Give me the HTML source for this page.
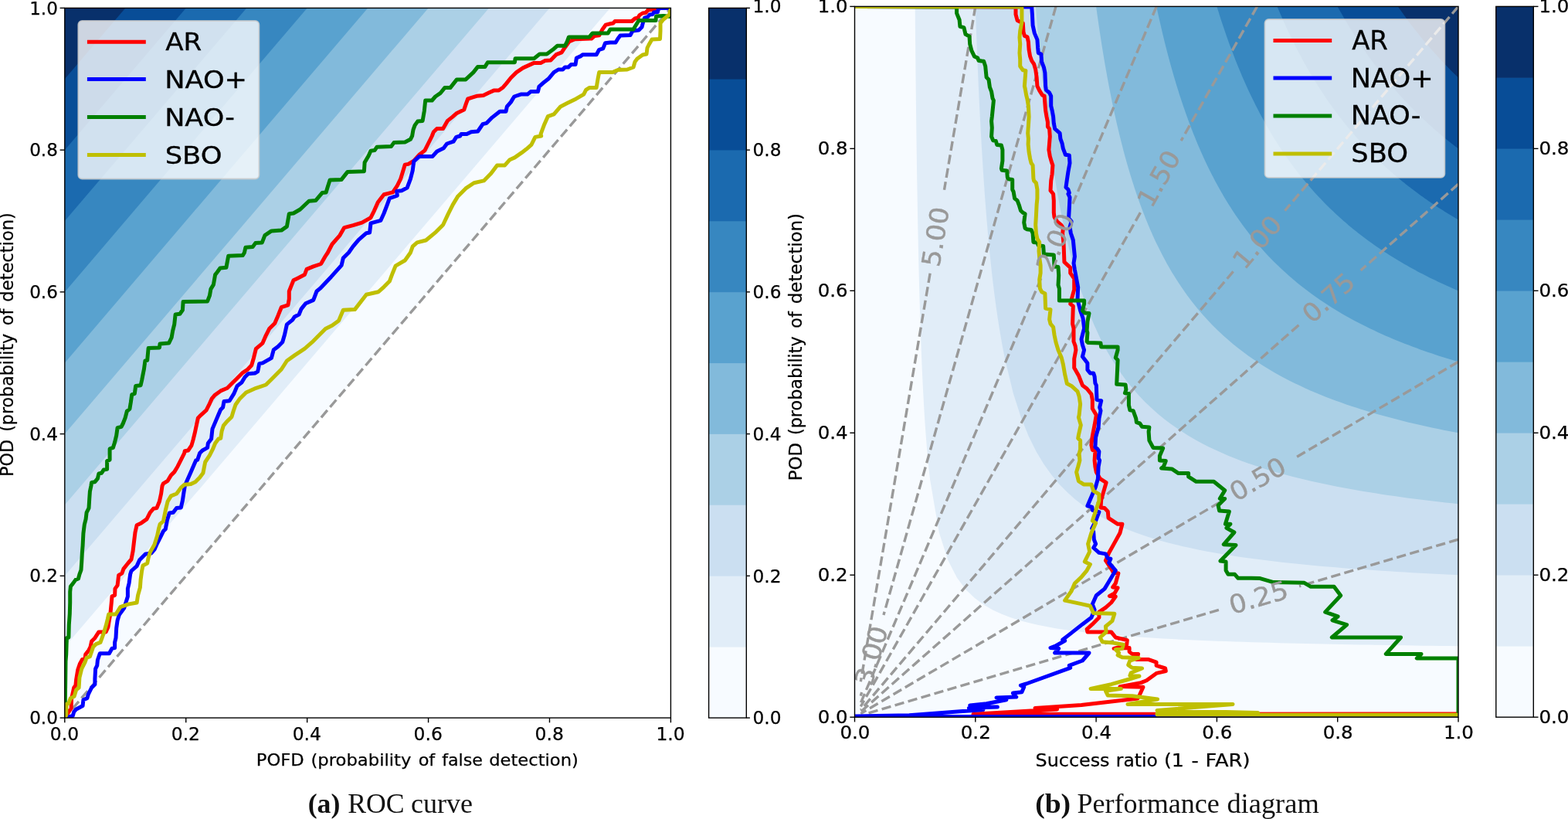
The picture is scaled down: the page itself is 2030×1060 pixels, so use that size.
<!DOCTYPE html>
<html lang="en"><head><meta charset="utf-8"><title>ROC curve and performance diagram</title>
<style>
html,body{margin:0;padding:0;background:#fff;}
body{width:2030px;height:1060px;overflow:hidden;}
svg{display:block;}
</style></head><body>
<svg width="2030" height="1060" viewBox="0 0 2030 1060" font-family="'DejaVu Sans', 'Liberation Sans', sans-serif">
<defs><clipPath id="cl"><rect x="83.8" y="10.4" width="784.6" height="918.7"/></clipPath><clipPath id="cr"><rect x="1106.5" y="8.4" width="781.5" height="919.8"/></clipPath></defs>
<rect width="2030" height="1060" fill="#ffffff"/>
<g clip-path="url(#cl)">
<polygon points="83.8,929.1 868.4,10.4 83.8,10.4" fill="#f7fbff"/>
<polygon points="83.8,837.23 789.94,10.4 83.8,10.4" fill="#e1edf8"/>
<polygon points="83.8,745.36 711.48,10.4 83.8,10.4" fill="#cbdff1"/>
<polygon points="83.8,653.49 633.02,10.4 83.8,10.4" fill="#abd0e6"/>
<polygon points="83.8,561.62 554.56,10.4 83.8,10.4" fill="#82badb"/>
<polygon points="83.8,469.75 476.1,10.4 83.8,10.4" fill="#59a2cf"/>
<polygon points="83.8,377.88 397.64,10.4 83.8,10.4" fill="#3787c0"/>
<polygon points="83.8,286.01 319.18,10.4 83.8,10.4" fill="#1b6aaf"/>
<polygon points="83.8,194.14 240.72,10.4 83.8,10.4" fill="#084d97"/>
<polygon points="83.8,102.27 162.26,10.4 83.8,10.4" fill="#08306b"/>
<line x1="83.8" y1="929.1" x2="868.4" y2="10.4" stroke="#999999" stroke-width="3.4" stroke-dasharray="12.3 5.4" stroke-dashoffset="2"/>
</g>
<g clip-path="url(#cl)" fill="none" stroke-width="5.0" stroke-linejoin="round" stroke-linecap="square">
<polyline points="84,929.3 88.6,921.4 92.1,917.1 92.6,904.3 95.7,890 97.9,887.1 98.6,880 100.7,867.1 103.6,858.6 106.4,853.6 110,852.1 110.7,847.1 115,841.4 117.1,837.1 118.6,830 122.9,825.7 127.9,817.9 137.1,817.9 140,811.4 141.4,802.9 142.9,794.3 143.6,787.1 144.3,780 145,771.9 148.6,770.4 149,761.9 152.1,757.6 153.6,744.7 157.9,741.9 160,736.1 165.7,729 170,724 172.1,713.3 173.6,700.4 175,689 177.1,679.7 182.9,676.9 190,671.9 194.3,663.3 198.6,658.3 202.9,657.6 206.4,649 208.6,639 210,629 211.4,625.9 217.1,622.3 221.4,615.1 225.7,610.9 230,603.7 234.3,595.1 238.6,586.6 239.3,583.7 243.6,583 247.9,576.6 250,569.4 252.1,560.9 253.6,553.7 256.4,540.9 260,537.3 267.1,530.9 271.4,522.3 274.3,515.9 277.9,511.6 285.7,505.9 294.3,502.3 300,496.6 307.1,489.4 314.3,482.3 320,478.7 325.7,472.7 328.6,462.7 331.4,451.3 340,444.1 344.3,434.1 348.6,425.6 355.7,418.4 360,408.4 364.3,397.7 372.9,394.9 374.3,387 374.3,377 377.1,369.9 380,362.7 385.7,359.9 394.3,355.6 397.1,348.4 405.7,344.9 414.3,342 415.7,341.3 421.4,331.3 424.3,327 430,316 440,304.6 445.7,294.6 457.1,291.7 468.6,288.1 480,281.7 484.3,273.1 489.3,261.7 497.1,251.7 508.6,248.9 514.3,240.3 518.6,231.7 524.3,213.1 528.6,212.4 535.7,208.1 542.9,200.3 550,194.6 554.3,186 559.3,176 561.4,170.7 565.7,166.4 573.6,166.4 579.3,156.4 585.7,151.4 591.4,146.4 600.7,142.1 603.6,133.6 605.7,127.9 617.1,124.3 625.7,123.6 632.9,120 639.3,117.1 645.7,117.1 651.4,112.9 655.7,107.9 661.4,100.7 668.6,93.6 677.1,87.9 691.4,81.4 700,81.4 705.7,78.6 712.9,77.9 720,70.7 727.1,67.9 731.4,61.4 737.1,53.6 744.3,50.7 765.7,50 770,46.4 775.7,45.7 780,37.9 784.3,32.1 790,30.7 794,30 796,27.5 818,27.5 822,24 826,23 828,19.5 832,17 836,16.5 839,13 848,12 850,10.4 868.5,10.4" stroke="#ff0000"/>
<polyline points="84,929.3 88.6,927.9 94.3,926.4 95.7,921.4 98.6,917.9 104.3,915 107.1,913.6 107.9,905.7 112.9,903.6 114.3,898.6 118.6,890 122.9,885.7 122.9,878.6 123.6,865.7 125.7,861.4 126.4,854.3 129.3,845.7 141.4,845.7 145,839.3 148.6,838.6 148.6,831.4 150,825.7 150.7,812.9 152.1,802.9 154.3,795.7 160.7,787.1 162.9,780 165.4,771.9 165.4,761.9 167.1,754.7 168.6,743.3 170,739 177.1,732.6 180.7,724.7 186.4,719 188.6,716.9 195.7,716.1 200,711.1 202.9,704.7 208.6,693.3 211.4,687.6 214.3,684.7 216.4,673.3 219.3,664 224.3,663.3 228.6,657.6 234.3,656.9 236.4,647.6 237.9,637.6 239.3,629 242.1,622.3 247.1,610.9 251.4,600.9 253.6,595.9 255.7,595.1 258.6,586.6 262.1,583 268.6,579.4 269.3,573.7 273.6,568 275,555.1 278.6,546.6 282.9,536.6 285.7,530.1 288.6,527.3 290,519.4 297.1,518.7 302.9,509.4 307.1,499.4 312.9,495.1 317.1,488 321.4,483.7 330,483 333.6,480.9 334.3,478 335.7,470.6 340,469.9 351.4,463.4 354.3,452.7 360,448.4 365.7,442.7 368.6,432.7 371.4,419.9 378.6,414.1 381.4,409.9 387.1,407 390,399.9 395.7,392.7 405.7,388.4 410,377 414.3,373.4 428.6,358.4 442.1,343.4 444.3,334.1 451.4,327 457.1,318.9 464.3,310.3 474.3,301.7 478.6,301 480,288.9 492.9,285.3 497.1,276 501.4,264.6 504.3,256.7 514.3,253.1 513.6,247.4 520,246.7 527.1,243.1 531.4,231.7 534.3,220.3 535.7,208.9 542.9,202.4 560,202.4 565.7,196 574.3,191.7 578.6,186 587.1,183.1 590.7,177.4 595.7,176 597.1,173.6 604.3,173.6 610,170.7 618.6,170 625,160.7 630,159.3 637.1,152.1 647.1,144.3 655,144.3 656.4,137.9 661.4,132.1 665.7,125 674.3,122.1 682.9,122.1 687.1,118.6 696.4,118.6 697.9,112.1 704.3,106.4 710,102.1 717.1,93.6 722.9,90 728.6,90 731.4,87.1 735.7,87.1 739.3,83.6 745,83.6 746.4,75 751.4,72.9 754.3,70.7 772.1,70.7 775.7,64.3 780.7,62.9 783.6,55.7 790,55 797,55 800,50 803,46 816,45.5 819,40 827,39 831,35 832.5,29 834.5,23 839,21.5 841,19 845,18.5 846.5,16 851.5,15.5 852.2,12 855,10.4 868.5,10.4" stroke="#0000ff"/>
<polyline points="84,929.3 84.7,880 85,855.7 85.7,847.1 86.4,825.7 88.9,825 89.3,808.6 90.3,794.3 90.7,780 90.7,766.1 91.4,759 94.3,755.4 97.9,750.4 101.4,749 102.9,743.3 105,737.6 105.7,727.6 106.4,714.7 107.1,706.1 107.9,690.4 109.3,679 111.1,671.9 112.1,663.3 115,657.6 115.7,646.1 116.4,636.1 117.9,629 118.6,624.4 122.9,623.7 126.4,619.4 127.9,613 131.4,612.3 134.3,608 138.6,607.3 138.6,596.6 142.1,595.1 142.1,580.9 146.4,579.4 148.6,572.3 150.7,563.7 152.1,553.7 157.1,552.3 159.3,548 162.1,540.9 164.3,532.3 167.9,529.4 169.3,520.9 170.7,510.9 174.3,509.4 175.7,499.4 182.1,498.7 183.6,492.3 185,485.1 186.4,478 187.9,467 190.7,466.3 192.1,450.6 206.4,449.9 207.1,444.9 218.6,444.1 222.1,437 223.6,428.4 225.7,419.9 227.1,407 232.9,406.3 236.4,401.3 237.1,390.6 268.6,389.9 271.4,382.7 272.9,374.1 276.4,368.4 278.6,355.6 281.4,352 285,347 292.9,346.3 295.7,331.3 314.3,330.6 316.4,327 317.9,320.3 327.1,319.6 330.7,314.6 339.3,313.9 342.9,304.6 351.4,298.9 364.3,298.1 371.4,293.1 374.3,276.7 380,276 388.6,271 400,260.3 408.6,259.6 417.1,249.6 422.1,248.9 424.3,241.7 427.1,233.1 442.1,232.4 450,222.4 471.4,221.7 472.1,210.3 477.1,201.7 480,195.3 485,194.6 487.9,190.3 506.4,189.6 510,184.6 524.3,183.9 531.4,180.3 533.6,176 535,167.9 537.1,162.1 540.7,157.1 547.1,156.4 549.3,143.6 550.7,130 559.3,130 563.6,125 570,120.7 575.7,113.6 582.9,113.6 591.4,102.9 602.9,102.9 612.9,93.6 618.6,86.4 627.9,86.4 631.4,80.7 666.4,80.7 667.1,75.7 691.4,75.7 698.6,70 707.9,70 715.7,64.3 721.4,59.3 731.4,59.3 734.3,53.6 736.4,47.9 762.9,47.9 767.1,42.9 787.1,42.9 790,38 820,38 823,33 827,26.5 849,26.5 849.5,21 859,20.5 868.5,21.5 868.5,10.4" stroke="#008000"/>
<polyline points="84,929.3 85.7,925.7 86,911.4 88.9,910.3 91.1,904 96,901.4 98.6,892.9 102.1,890 102.9,877.1 105.7,865.7 110,857.1 112.1,851.4 116.4,849.7 120.7,837.1 124.3,833.6 130,831.4 133.6,821.4 137.1,810 139.3,801.4 140.7,795 150,795 155.7,785.7 165.7,782.1 177.1,780 178.6,770.4 181.4,760.4 182.1,750.4 183.6,739 185,731.9 190.7,729 192.1,721.9 194.3,714.7 200,704.7 203.6,693.3 205.7,683.3 207.1,678.3 211.4,674.7 214.3,660.4 217.1,649 221.4,641.9 228.6,639 234.3,631.1 238.6,627.3 247.1,626.6 252.9,623.7 258.6,618 262.9,612.3 264.3,605.1 265.7,598 271.4,589.4 275.7,580.9 278.6,573.7 282.9,568 285.7,567.3 287.1,558 289.3,550.9 292.9,546.6 300,539.4 302.1,532.3 305,523.7 310,516.6 318.6,508 331.4,502.3 344.3,498 351.4,490.9 358.6,483.7 364.3,478 371.4,467 381.4,459.9 394.3,451.3 404.3,442.7 411.4,435.6 421.4,425.6 430,421.3 438.6,414.9 444.3,401.3 459.3,400.6 474.3,381.3 490,377.7 497.1,371.3 504.3,364.1 508.6,352.7 512.1,344.1 524.3,337 531.4,327 534.3,318.9 540,313.9 551.4,311 564.3,300.3 573.6,291 580,277.4 586.4,264.6 592.9,253.9 602.9,243.9 613.6,236.7 626.4,233.9 635.7,224.6 643.6,213.9 653.6,213.9 660,206.7 666.4,203.9 675.7,197.4 681.4,193.1 687.9,187.4 692.9,177.4 700.7,176 700,173.6 704.3,162.1 709.3,150.7 717.1,147.9 725.7,137.9 734.3,133.6 745.7,127.9 755.7,122.1 758.6,116.4 762.9,113.6 772.1,113.6 774.3,100.7 775.7,93.6 793,93.5 800,90.5 812,90 820,87 822,80 825,76 832,71 837,70 838,62 840,58 844,51 854.5,50.5 855,40 855,30 859,25 864,21 866.5,19 868.5,10.4" stroke="#bfbf00"/>
</g>
<g clip-path="url(#cr)">
<rect x="1106.5" y="8.4" width="781.5" height="919.8" fill="#f7fbff"/>
<polygon points="1184.65,8.4 1185.05,52.83 1185.45,92.79 1185.85,128.9 1186.24,161.7 1186.64,191.63 1187.04,219.04 1187.44,244.25 1187.84,267.5 1188.24,289.02 1188.64,308.99 1189.04,327.57 1189.43,344.91 1189.83,361.13 1190.23,376.32 1190.63,390.59 1191.03,404.01 1191.43,416.67 1191.83,428.61 1192.23,439.91 1192.62,450.61 1193.02,460.76 1193.42,470.4 1193.82,479.57 1194.22,488.3 1194.62,496.62 1195.02,504.56 1195.42,512.14 1195.81,519.4 1196.21,526.35 1196.61,533 1197.01,539.38 1197.41,545.51 1197.81,551.39 1198.21,557.05 1198.61,562.5 1199,567.74 1199.4,572.79 1199.8,577.66 1200.2,582.36 1200.6,586.89 1201,591.27 1201.4,595.51 1201.8,599.6 1202.19,603.56 1202.59,607.4 1202.99,611.12 1203.39,614.72 1203.79,618.21 1204.19,621.6 1215.78,689.2 1227.37,725.34 1238.96,747.85 1250.55,763.2 1262.14,774.35 1273.73,782.82 1285.32,789.46 1296.91,794.81 1308.5,799.22 1320.09,802.91 1331.68,806.04 1343.27,808.73 1354.86,811.08 1366.45,813.13 1378.04,814.95 1389.63,816.57 1401.22,818.02 1412.81,819.33 1424.4,820.52 1435.99,821.6 1447.58,822.58 1459.17,823.49 1470.76,824.32 1482.35,825.09 1493.94,825.81 1505.53,826.47 1517.12,827.09 1528.71,827.66 1540.3,828.21 1551.89,828.71 1563.48,829.19 1575.07,829.64 1586.66,830.06 1598.25,830.46 1609.84,830.84 1621.43,831.2 1633.02,831.54 1644.61,831.86 1656.2,832.17 1667.79,832.46 1679.38,832.74 1690.97,833.01 1702.56,833.27 1714.15,833.51 1725.74,833.74 1737.33,833.97 1748.92,834.18 1760.51,834.39 1772.1,834.59 1783.69,834.78 1795.28,834.96 1806.87,835.14 1818.46,835.31 1830.05,835.48 1841.64,835.64 1853.23,835.79 1864.82,835.94 1876.41,836.08 1888,836.22 1888,8.4" fill="#e1edf8"/>
<polygon points="1262.8,8.4 1263.6,31.17 1264.39,52.62 1265.19,72.87 1265.99,92.02 1266.79,110.15 1267.58,127.34 1268.38,143.66 1269.18,159.19 1269.98,173.96 1270.77,188.05 1271.57,201.49 1272.37,214.33 1273.17,226.6 1273.96,238.35 1274.76,249.61 1275.56,260.4 1276.36,270.76 1277.15,280.71 1277.95,290.27 1278.75,299.48 1279.55,308.33 1280.34,316.87 1281.14,325.1 1281.94,333.04 1282.74,340.7 1283.53,348.1 1284.33,355.25 1285.13,362.17 1285.93,368.86 1286.72,375.34 1287.52,381.62 1288.32,387.7 1289.12,393.6 1289.91,399.32 1290.71,404.87 1291.51,410.25 1292.31,415.49 1293.1,420.57 1293.9,425.52 1294.7,430.33 1295.5,435 1296.29,439.56 1297.09,443.99 1297.89,448.3 1298.69,452.51 1299.48,456.61 1300.28,460.6 1301.08,464.5 1301.88,468.3 1311.81,508.88 1321.74,539.97 1331.68,564.56 1341.61,584.49 1351.55,600.96 1361.48,614.82 1371.42,626.63 1381.35,636.81 1391.28,645.69 1401.22,653.49 1411.15,660.41 1421.09,666.58 1431.02,672.12 1440.96,677.12 1450.89,681.66 1460.82,685.79 1470.76,689.57 1480.69,693.05 1490.63,696.25 1500.56,699.21 1510.5,701.96 1520.43,704.51 1530.36,706.89 1540.3,709.12 1550.23,711.2 1560.17,713.16 1570.1,715 1580.04,716.73 1589.97,718.37 1599.9,719.92 1609.84,721.38 1619.77,722.77 1629.71,724.09 1639.64,725.34 1649.58,726.53 1659.51,727.67 1669.44,728.75 1679.38,729.79 1689.31,730.78 1699.25,731.73 1709.18,732.64 1719.12,733.51 1729.05,734.34 1738.99,735.14 1748.92,735.91 1758.85,736.66 1768.79,737.37 1778.72,738.06 1788.66,738.72 1798.59,739.36 1808.53,739.98 1818.46,740.57 1828.39,741.15 1838.33,741.71 1848.26,742.25 1858.2,742.77 1868.13,743.28 1878.07,743.77 1888,744.24 1888,8.4" fill="#cbdff1"/>
<polygon points="1340.95,8.4 1342.15,23.7 1343.34,38.36 1344.54,52.41 1345.73,65.89 1346.93,78.83 1348.13,91.26 1349.32,103.22 1350.52,114.74 1351.72,125.82 1352.91,136.51 1354.11,146.81 1355.3,156.75 1356.5,166.36 1357.7,175.64 1358.89,184.61 1360.09,193.28 1361.28,201.68 1362.48,209.82 1363.68,217.7 1364.87,225.33 1366.07,232.74 1367.27,239.93 1368.46,246.91 1369.66,253.68 1370.85,260.26 1372.05,266.66 1373.25,272.88 1374.44,278.93 1375.64,284.82 1376.84,290.55 1378.03,296.13 1379.23,301.56 1380.42,306.86 1381.62,312.02 1382.82,317.06 1384.01,321.97 1385.21,326.76 1386.4,331.44 1387.6,336 1388.8,340.46 1389.99,344.81 1391.19,349.07 1392.39,353.22 1393.58,357.29 1394.78,361.26 1395.97,365.15 1397.17,368.96 1398.37,372.68 1399.56,376.32 1407.84,399.56 1416.12,419.82 1424.4,437.64 1432.68,453.44 1440.96,467.54 1449.23,480.2 1457.51,491.64 1465.79,502.02 1474.07,511.47 1482.35,520.13 1490.63,528.09 1498.91,535.42 1507.18,542.2 1515.46,548.49 1523.74,554.35 1532.02,559.8 1540.3,564.9 1548.58,569.68 1556.86,574.16 1565.13,578.38 1573.41,582.36 1581.69,586.11 1589.97,589.65 1598.25,593.01 1606.53,596.19 1614.81,599.22 1623.08,602.09 1631.36,604.82 1639.64,607.43 1647.92,609.92 1656.2,612.3 1664.48,614.57 1672.76,616.74 1681.03,618.83 1689.31,620.82 1697.59,622.74 1705.87,624.58 1714.15,626.35 1722.43,628.05 1730.71,629.69 1738.99,631.27 1747.26,632.8 1755.54,634.26 1763.82,635.68 1772.1,637.05 1780.38,638.37 1788.66,639.65 1796.94,640.89 1805.21,642.09 1813.49,643.25 1821.77,644.38 1830.05,645.47 1838.33,646.52 1846.61,647.55 1854.89,648.55 1863.16,649.52 1871.44,650.46 1879.72,651.37 1888,652.26 1888,8.4" fill="#abd0e6"/>
<polygon points="1419.1,8.4 1420.69,19.93 1422.29,31.06 1423.88,41.81 1425.48,52.2 1427.07,62.25 1428.67,71.98 1430.26,81.4 1431.86,90.53 1433.45,99.37 1435.05,107.95 1436.64,116.27 1438.24,124.34 1439.83,132.18 1441.43,139.8 1443.02,147.2 1444.62,154.4 1446.21,161.4 1447.81,168.21 1449.4,174.84 1451,181.29 1452.59,187.58 1454.19,193.71 1455.78,199.68 1457.38,205.5 1458.97,211.18 1460.57,216.72 1462.16,222.12 1463.76,227.4 1465.35,232.55 1466.95,237.59 1468.54,242.5 1470.14,247.31 1471.73,252.01 1473.33,256.6 1474.92,261.09 1476.52,265.49 1478.11,269.79 1479.71,274 1481.3,278.12 1482.9,282.15 1484.49,286.1 1486.09,289.97 1487.68,293.76 1489.28,297.48 1490.87,301.12 1492.47,304.69 1494.06,308.2 1495.66,311.63 1497.25,315 1503.87,328.33 1510.5,340.68 1517.12,352.16 1523.74,362.86 1530.36,372.85 1536.99,382.2 1543.61,390.97 1550.23,399.22 1556.86,406.98 1563.48,414.3 1570.1,421.22 1576.72,427.77 1583.35,433.98 1589.97,439.87 1596.59,445.47 1603.22,450.8 1609.84,455.87 1616.46,460.71 1623.08,465.33 1629.71,469.75 1636.33,473.98 1642.95,478.03 1649.58,481.91 1656.2,485.63 1662.82,489.2 1669.44,492.64 1676.07,495.94 1682.69,499.12 1689.31,502.19 1695.94,505.14 1702.56,507.99 1709.18,510.73 1715.81,513.39 1722.43,515.95 1729.05,518.43 1735.67,520.83 1742.3,523.15 1748.92,525.4 1755.54,527.58 1762.17,529.69 1768.79,531.73 1775.41,533.72 1782.03,535.65 1788.66,537.52 1795.28,539.34 1801.9,541.11 1808.53,542.83 1815.15,544.5 1821.77,546.13 1828.39,547.71 1835.02,549.26 1841.64,550.76 1848.26,552.22 1854.89,553.65 1861.51,555.04 1868.13,556.4 1874.75,557.73 1881.38,559.02 1888,560.28 1888,8.4" fill="#82badb"/>
<polygon points="1497.25,8.4 1499.24,17.64 1501.24,26.61 1503.23,35.32 1505.22,43.78 1507.22,51.99 1509.21,59.98 1511.21,67.74 1513.2,75.29 1515.19,82.64 1517.19,89.8 1519.18,96.77 1521.17,103.55 1523.17,110.17 1525.16,116.61 1527.15,122.9 1529.15,129.03 1531.14,135.01 1533.14,140.85 1535.13,146.55 1537.12,152.12 1539.12,157.56 1541.11,162.87 1543.1,168.06 1545.1,173.14 1547.09,178.1 1549.08,182.96 1551.08,187.71 1553.07,192.36 1555.07,196.91 1557.06,201.37 1559.05,205.73 1561.05,210 1563.04,214.19 1565.03,218.29 1567.03,222.31 1569.02,226.25 1571.01,230.11 1573.01,233.9 1575,237.62 1576.99,241.26 1578.99,244.84 1580.98,248.35 1582.98,251.79 1584.97,255.18 1586.96,258.5 1588.96,261.76 1590.95,264.96 1592.94,268.11 1594.94,271.2 1599.9,278.67 1604.87,285.83 1609.84,292.7 1614.81,299.29 1619.77,305.63 1624.74,311.72 1629.71,317.58 1634.67,323.22 1639.64,328.65 1644.61,333.9 1649.58,338.95 1654.54,343.84 1659.51,348.55 1664.48,353.11 1669.44,357.52 1674.41,361.79 1679.38,365.92 1684.35,369.92 1689.31,373.8 1694.28,377.56 1699.25,381.21 1704.22,384.75 1709.18,388.19 1714.15,391.53 1719.12,394.77 1724.08,397.93 1729.05,401 1734.02,403.98 1738.99,406.89 1743.95,409.72 1748.92,412.47 1753.89,415.16 1758.85,417.78 1763.82,420.33 1768.79,422.82 1773.76,425.24 1778.72,427.61 1783.69,429.92 1788.66,432.18 1793.62,434.39 1798.59,436.54 1803.56,438.65 1808.53,440.71 1813.49,442.72 1818.46,444.69 1823.43,446.61 1828.39,448.5 1833.36,450.34 1838.33,452.14 1843.3,453.91 1848.26,455.64 1853.23,457.34 1858.2,459 1863.16,460.63 1868.13,462.22 1873.1,463.79 1878.07,465.32 1883.03,466.82 1888,468.3 1888,8.4" fill="#59a2cf"/>
<polygon points="1575.4,8.4 1577.79,16.12 1580.18,23.63 1582.58,30.94 1584.97,38.07 1587.36,45.02 1589.75,51.79 1592.15,58.39 1594.54,64.83 1596.93,71.11 1599.32,77.25 1601.72,83.24 1604.11,89.08 1606.5,94.8 1608.89,100.38 1611.29,105.84 1613.68,111.17 1616.07,116.39 1618.46,121.49 1620.85,126.48 1623.25,131.37 1625.64,136.15 1628.03,140.83 1630.42,145.42 1632.82,149.91 1635.21,154.31 1637.6,158.62 1639.99,162.84 1642.39,166.99 1644.78,171.05 1647.17,175.03 1649.56,178.94 1651.96,182.77 1654.35,186.53 1656.74,190.22 1659.13,193.84 1661.52,197.4 1663.92,200.89 1666.31,204.32 1668.7,207.69 1671.09,211 1673.49,214.25 1675.88,217.45 1678.27,220.59 1680.66,223.67 1683.06,226.71 1685.45,229.69 1687.84,232.63 1690.23,235.51 1692.62,238.35 1695.94,242.2 1699.25,245.97 1702.56,249.66 1705.87,253.27 1709.18,256.8 1712.49,260.25 1715.81,263.63 1719.12,266.94 1722.43,270.19 1725.74,273.37 1729.05,276.48 1732.36,279.54 1735.67,282.53 1738.99,285.46 1742.3,288.34 1745.61,291.16 1748.92,293.93 1752.23,296.65 1755.54,299.31 1758.85,301.93 1762.17,304.5 1765.48,307.02 1768.79,309.5 1772.1,311.93 1775.41,314.32 1778.72,316.67 1782.03,318.98 1785.35,321.25 1788.66,323.48 1791.97,325.67 1795.28,327.83 1798.59,329.95 1801.9,332.03 1805.21,334.08 1808.53,336.1 1811.84,338.09 1815.15,340.04 1818.46,341.96 1821.77,343.86 1825.08,345.72 1828.39,347.55 1831.71,349.36 1835.02,351.14 1838.33,352.89 1841.64,354.62 1844.95,356.32 1848.26,357.99 1851.57,359.64 1854.89,361.27 1858.2,362.87 1861.51,364.45 1864.82,366.01 1868.13,367.54 1871.44,369.06 1874.75,370.55 1878.07,372.02 1881.38,373.48 1884.69,374.91 1888,376.32 1888,8.4" fill="#3787c0"/>
<polygon points="1653.55,8.4 1656.34,15.02 1659.13,21.48 1661.92,27.79 1664.71,33.95 1667.51,39.96 1670.3,45.84 1673.09,51.58 1675.88,57.2 1678.67,62.68 1681.46,68.05 1684.25,73.3 1687.04,78.44 1689.83,83.46 1692.62,88.38 1695.42,93.2 1698.21,97.92 1701,102.54 1703.79,107.07 1706.58,111.5 1709.37,115.85 1712.16,120.12 1714.95,124.3 1717.74,128.4 1720.54,132.42 1723.33,136.36 1726.12,140.23 1728.91,144.03 1731.7,147.76 1734.49,151.43 1737.28,155.02 1740.07,158.55 1742.86,162.02 1745.66,165.43 1748.45,168.78 1751.24,172.07 1754.03,175.3 1756.82,178.48 1759.61,181.6 1762.4,184.68 1765.19,187.7 1767.98,190.67 1770.78,193.59 1773.57,196.47 1776.36,199.3 1779.15,202.09 1781.94,204.83 1784.73,207.53 1787.52,210.18 1790.31,212.8 1791.97,214.33 1793.62,215.85 1795.28,217.36 1796.94,218.85 1798.59,220.33 1800.25,221.79 1801.9,223.24 1803.56,224.68 1805.21,226.11 1806.87,227.52 1808.53,228.93 1810.18,230.32 1811.84,231.69 1813.49,233.06 1815.15,234.41 1816.8,235.76 1818.46,237.09 1820.12,238.41 1821.77,239.72 1823.43,241.01 1825.08,242.3 1826.74,243.58 1828.39,244.84 1830.05,246.1 1831.71,247.34 1833.36,248.58 1835.02,249.8 1836.67,251.02 1838.33,252.22 1839.98,253.42 1841.64,254.6 1843.3,255.78 1844.95,256.95 1846.61,258.11 1848.26,259.25 1849.92,260.39 1851.57,261.52 1853.23,262.65 1854.89,263.76 1856.54,264.86 1858.2,265.96 1859.85,267.05 1861.51,268.13 1863.16,269.2 1864.82,270.26 1866.48,271.32 1868.13,272.36 1869.79,273.4 1871.44,274.43 1873.1,275.46 1874.75,276.47 1876.41,277.48 1878.07,278.48 1879.72,279.48 1881.38,280.46 1883.03,281.44 1884.69,282.42 1886.34,283.38 1888,284.34 1888,8.4" fill="#1b6aaf"/>
<polygon points="1731.7,8.4 1734.89,14.2 1738.08,19.87 1741.27,25.41 1744.46,30.83 1747.65,36.14 1750.84,41.33 1754.03,46.41 1757.22,51.38 1760.41,56.25 1763.6,61.02 1766.79,65.69 1769.98,70.27 1773.17,74.76 1776.36,79.15 1779.55,83.47 1782.74,87.69 1785.93,91.84 1789.12,95.91 1792.31,99.9 1795.5,103.81 1798.69,107.66 1801.88,111.43 1805.07,115.14 1808.26,118.78 1811.44,122.35 1814.63,125.86 1817.82,129.31 1821.01,132.7 1824.2,136.03 1827.39,139.3 1830.58,142.52 1833.77,145.68 1836.96,148.8 1840.15,151.86 1843.34,154.86 1846.53,157.83 1849.72,160.74 1852.91,163.61 1856.1,166.43 1859.29,169.2 1862.48,171.94 1865.67,174.63 1868.86,177.28 1872.05,179.89 1875.24,182.46 1878.43,184.99 1881.62,187.48 1884.81,189.94 1888,192.36 1888,192.36 1888,192.36 1888,192.36 1888,192.36 1888,192.36 1888,192.36 1888,192.36 1888,192.36 1888,192.36 1888,192.36 1888,192.36 1888,192.36 1888,192.36 1888,192.36 1888,192.36 1888,192.36 1888,192.36 1888,192.36 1888,192.36 1888,192.36 1888,192.36 1888,192.36 1888,192.36 1888,192.36 1888,192.36 1888,192.36 1888,192.36 1888,192.36 1888,192.36 1888,192.36 1888,192.36 1888,192.36 1888,192.36 1888,192.36 1888,192.36 1888,192.36 1888,192.36 1888,192.36 1888,192.36 1888,192.36 1888,192.36 1888,192.36 1888,192.36 1888,192.36 1888,192.36 1888,192.36 1888,192.36 1888,192.36 1888,192.36 1888,192.36 1888,192.36 1888,192.36 1888,192.36 1888,192.36 1888,192.36 1888,192.36 1888,192.36 1888,192.36 1888,192.36 1888,8.4" fill="#084d97"/>
<polygon points="1809.85,8.4 1813.44,13.56 1817.03,18.61 1820.62,23.55 1824.2,28.4 1827.79,33.14 1831.38,37.79 1834.97,42.34 1838.56,46.81 1842.15,51.18 1845.74,55.47 1849.32,59.68 1852.91,63.81 1856.5,67.86 1860.09,71.83 1863.68,75.74 1867.27,79.56 1870.85,83.32 1874.44,87.02 1878.03,90.64 1881.62,94.2 1885.21,97.7 1888,100.38 1888,8.4" fill="#08306b"/>
<line x1="1262.8" y1="8.4" x2="1222.46" y2="245.8" stroke="#999999" stroke-width="3.4" stroke-dasharray="12.3 5.4"/>
<line x1="1204.11" y1="353.8" x2="1114.32" y2="882.21" stroke="#999999" stroke-width="3.4" stroke-dasharray="12.3 5.4"/>
<line x1="1367" y1="8.4" x2="1143.94" y2="796" stroke="#999999" stroke-width="3.4" stroke-dasharray="12.3 5.4"/>
<line x1="1115.62" y1="896" x2="1114.32" y2="900.61" stroke="#999999" stroke-width="3.4" stroke-dasharray="12.3 5.4"/>
<line x1="1497.25" y1="8.4" x2="1388.75" y2="263.8" stroke="#999999" stroke-width="3.4" stroke-dasharray="12.3 5.4"/>
<line x1="1347.76" y1="360.3" x2="1114.32" y2="909.8" stroke="#999999" stroke-width="3.4" stroke-dasharray="12.3 5.4"/>
<line x1="1627.5" y1="8.4" x2="1529.11" y2="182.1" stroke="#999999" stroke-width="3.4" stroke-dasharray="12.3 5.4"/>
<line x1="1476.38" y1="275.2" x2="1114.32" y2="914.4" stroke="#999999" stroke-width="3.4" stroke-dasharray="12.3 5.4"/>
<line x1="1888" y1="8.4" x2="1663.4" y2="272.75" stroke="#999999" stroke-width="3.4" stroke-dasharray="12.3 5.4"/>
<line x1="1596.6" y1="351.37" x2="1114.32" y2="919" stroke="#999999" stroke-width="3.4" stroke-dasharray="12.3 5.4"/>
<line x1="1888" y1="238.35" x2="1761.6" y2="349.93" stroke="#999999" stroke-width="3.4" stroke-dasharray="12.3 5.4"/>
<line x1="1681.4" y1="420.72" x2="1114.32" y2="921.3" stroke="#999999" stroke-width="3.4" stroke-dasharray="12.3 5.4"/>
<line x1="1888" y1="468.3" x2="1675.5" y2="593.35" stroke="#999999" stroke-width="3.4" stroke-dasharray="12.3 5.4"/>
<line x1="1579" y1="650.14" x2="1114.32" y2="923.6" stroke="#999999" stroke-width="3.4" stroke-dasharray="12.3 5.4"/>
<line x1="1888" y1="698.25" x2="1682.1" y2="758.83" stroke="#999999" stroke-width="3.4" stroke-dasharray="12.3 5.4"/>
<line x1="1577.9" y1="789.49" x2="1122.13" y2="923.6" stroke="#999999" stroke-width="3.4" stroke-dasharray="12.3 5.4"/>
</g>
<g clip-path="url(#cr)" fill="none" stroke-width="5.0" stroke-linejoin="round" stroke-linecap="square">
<polyline points="1106.5,8.4 1315,8.9 1315,18.6 1317.1,26.4 1324.3,30 1325,41.4 1326.4,46.4 1330,47.9 1331.4,54.3 1332.1,64.3 1333.6,72.9 1335.7,78.6 1338.6,82.9 1340.7,90 1342.1,100 1342.9,111.4 1345.7,117.1 1349.3,122.9 1352.1,124.3 1352.9,134.3 1353.6,142.9 1355,151 1356.4,158.1 1356.4,163.9 1358.6,166.7 1359.3,176.7 1358.6,185.3 1357.9,193.9 1359.3,202.4 1361.4,209.6 1362.9,213.9 1362.1,225.3 1360.7,233.9 1360,246.7 1363.6,251 1364.3,259.6 1364.3,275.3 1365,281 1368.6,286.7 1374.3,291.7 1376.4,295.3 1375.7,302 1377.1,316.3 1377.9,339.1 1385.7,346.3 1385.7,353.4 1390.7,360.6 1390.7,374.9 1387.9,384.9 1385.7,393.4 1389.3,396.3 1388.6,419.1 1390,424.9 1390,442 1392.1,447.7 1392.9,453 1390.7,464.4 1390.7,475.9 1396.4,485.9 1401.4,498.7 1407.1,503 1412.9,510.1 1414.3,517.3 1414.3,528.7 1419.3,537.3 1417.1,550.1 1414.3,564.4 1412.9,575.9 1414.3,582.3 1417.9,583.7 1417.1,595.9 1417.9,604 1419.3,611.1 1424.3,619.7 1432.1,624.7 1428.6,636.9 1425.7,646.9 1425,656.9 1430,657.6 1434.3,661.9 1435,670.4 1447.1,678.3 1452.9,678.3 1450,689.7 1442.9,702.6 1435.7,715.4 1431.4,725.4 1434.3,729.7 1440,738.3 1441.4,741.1 1447.9,741.9 1444.3,755 1440.7,760 1447.1,760.7 1442.9,767.9 1436.4,771.4 1444.3,772.1 1438.6,780 1431.4,786.4 1422.9,792.1 1422.9,799.3 1414.3,807.9 1407.1,814.3 1407.9,817.9 1438.6,817.9 1444.3,825 1459.3,828.6 1458.6,835 1442.1,839.3 1462.1,838.6 1462.1,843.6 1465.7,846.4 1473.6,846.4 1471.4,853.6 1487.1,853.6 1497.1,857.1 1497.1,861.4 1508.6,865 1509.3,868.6 1497.1,871.4 1484.3,880.7 1477.1,883.6 1450,888.6 1480,889.3 1476,898 1473,904 1400,912.5 1340,916.4 1368.6,917.9 1334,920 1260,924.3 1888,924" stroke="#ff0000"/>
<polyline points="1106.5,8.4 1335.7,8.9 1336.4,18.6 1337.1,32.9 1339.3,42.9 1342.9,51.4 1343.6,61.4 1344.3,68.6 1347.9,70 1348.6,80 1351.4,87.1 1352.9,94.3 1353.6,111.4 1354.3,116.4 1358.6,120 1360.7,124.3 1360.7,137.1 1362.1,142.9 1363.6,151 1364.3,159.6 1365.7,166.7 1372.1,172.4 1372.9,179.6 1375,185.3 1376.4,192.4 1378.6,198.1 1379.3,200.3 1384.3,201 1385,211 1382.9,222.4 1381.4,232.4 1380,242.4 1382.9,245.3 1384.3,249.6 1382.9,251 1385,255.3 1384.3,269.6 1383.6,282.4 1387.1,286.7 1385,293.9 1386.4,302 1389.3,310.6 1391.4,332 1390,340.6 1391.4,349.1 1395.7,372 1395,387.7 1398.6,402 1402.1,412 1403.6,424.9 1400,439.1 1401.4,446.3 1403.6,453 1401.4,461.6 1407.9,470.1 1407.9,478.7 1411.4,483 1415.7,483 1417.1,487.3 1417.9,495.9 1419.3,498.7 1420,517.3 1425.7,518.7 1423.6,527.3 1425,531.6 1422.9,541.6 1422.1,553 1418.6,565.9 1417.9,578.7 1420.7,580.9 1422.9,584.4 1422.1,593 1423.6,595.9 1422.1,604 1421.4,619.7 1418.6,629.7 1414.3,639.7 1407.9,654.7 1413.6,656.1 1414.3,660.4 1422.9,662.6 1418.6,674 1413.6,684 1415.7,688.3 1416.4,698.3 1418.6,704 1415.7,709 1422.9,715.4 1431.4,716.9 1434.3,722.6 1437.9,723.3 1435.7,728.3 1444.3,738.3 1434.3,755 1430,762.1 1419.3,770.7 1414.3,782.1 1417.1,789.3 1412.9,799.3 1401.4,807.9 1384.3,821.4 1375.7,827.9 1378.6,829.3 1367.1,835.7 1360,838.6 1370.7,839.3 1365.7,845 1410,845 1401.4,855 1384.3,861.4 1385.7,864.3 1328.6,885 1321.4,887.1 1325.7,889.3 1322.9,895.7 1311.4,897.1 1315.7,902.1 1290,902.9 1302.9,905.7 1277.1,910.7 1255.7,912.9 1291.4,915 1254.3,916.4 1272.9,918.6 1242.9,920.7 1177.1,925.7 1106.4,927.1 1106.5,927.6 1888,927.6" stroke="#0000ff"/>
<polyline points="1106.5,8.4 1238.6,8.9 1238.6,17.1 1242.1,25.7 1242.9,34.3 1247.9,35.7 1250,44.3 1255,47.1 1255.7,57.1 1257.9,65.7 1261.4,72.9 1265.7,75 1267.1,78.6 1273.6,79.3 1275.7,85.7 1277.1,100 1280,102.9 1281.4,112.9 1283.6,118.6 1285,127.1 1286.4,130 1284.3,151 1283.6,156.7 1284.3,165.3 1283.6,176.7 1285.7,181.7 1289.3,182.4 1290.7,187.4 1296.4,188.1 1297.9,193.9 1297.9,208.1 1296.4,218.1 1297.1,220.3 1303.6,221 1304.3,229.6 1305.7,231.7 1310.7,232.4 1310.7,245.3 1312.1,248.1 1313.6,256.7 1317.1,259.6 1319.3,265.3 1321.4,272.4 1324.3,275.3 1327.1,276.7 1325.7,288.1 1327.1,295.3 1329.3,296.7 1335,297.4 1337.1,302 1337.9,313.4 1342.9,314.1 1344.3,317.7 1350.7,318.4 1351.4,329.1 1364.3,329.9 1365,344.9 1370,345.6 1370.7,356.3 1370,369.1 1371.4,373.4 1371.4,389.1 1403.6,389.1 1403.6,393.4 1401.4,402 1404.3,404.9 1410,405.6 1407.9,416.3 1407.1,427.7 1407.9,430.6 1407.1,442 1408.6,443.4 1425,444.1 1425.7,449.1 1447.1,449.1 1447.1,453 1444.3,463 1447.1,465.9 1446.4,481.6 1445.7,497.3 1457.1,498 1457.9,504.4 1456.4,508.7 1461.4,509.4 1461.4,524.4 1462.9,530.9 1467.1,531.6 1470.7,541.6 1471.4,546.6 1475.7,548 1478.6,552.3 1487.9,553 1487.1,558.7 1487.9,570.1 1492.9,579.4 1505.7,580.1 1501.4,590.1 1501.4,595.9 1509.3,596.6 1506.4,604 1503.6,606.1 1517.1,606.9 1525.7,612.6 1538.6,612.6 1538.6,616.9 1548.6,623.3 1571.4,623.3 1585.7,634.7 1579.3,645.4 1585.7,645.4 1577.1,654 1578.6,661.1 1591.4,661.9 1586.4,678.3 1592.9,678.3 1587.9,683.3 1597.9,689 1584.3,704.7 1600,705.4 1580,726.1 1587.1,726.9 1587.1,738.3 1590,743.3 1598.6,743.3 1602.9,748.3 1620,748.3 1631.4,748.6 1648.6,753.6 1688.6,754.3 1697.1,759.3 1727.1,759.3 1735.7,770.7 1715.7,792.1 1732.1,797.9 1725,802.9 1743.6,808.6 1724.3,825 1813.6,825 1794.3,846.4 1840,846.4 1834.3,852.1 1885.7,852.1 1888,852.1 1888,928.2" stroke="#008000"/>
<polyline points="1106.5,8.4 1322.9,8.9 1322.9,28.6 1320.7,40 1320,48.6 1320.7,57.1 1320,68.6 1320.7,77.1 1320.7,85.7 1324.3,90.7 1327.9,91.4 1326.4,111.4 1327.1,114.3 1328.6,122.9 1330,128.6 1331.4,137.1 1332.1,151 1331.4,162.4 1330.7,172.4 1331.4,179.6 1331.1,186.7 1332.1,196.7 1333.6,205.3 1335,211 1337.1,213.9 1337.9,231 1338.6,233.9 1341.4,236.7 1342.9,245.3 1342.9,256.7 1342.1,265.3 1341.4,279.6 1340.7,291 1341.4,302 1342.9,309.1 1345.7,313.4 1345,324.9 1345.7,333.4 1347.1,343.4 1347.1,353.4 1345.7,362 1346.4,373.4 1348.6,377.7 1352.9,379.9 1353.6,399.1 1360,400.6 1358.6,413.4 1360,419.1 1363.6,423.4 1365,433.4 1367.1,443.4 1370,453 1374.3,463 1376.4,471.6 1378.6,484.4 1381.4,496.6 1387.1,499.4 1395,506.6 1397.1,513 1398.6,523 1397.1,537.3 1396.4,540.1 1399.3,550.1 1396.4,563 1395.7,567.3 1398.6,570.1 1398.6,581.6 1397.1,587.3 1397.9,595.9 1395.7,604 1393.6,611.1 1396.4,622.6 1402.9,626.9 1412.9,626.9 1415.7,635.4 1422.9,639.7 1422.9,648.3 1418.6,661.1 1414.3,674 1418.6,676.9 1412.9,689.7 1408.6,704 1410.7,714 1404.3,726.9 1411.4,730.4 1407.1,738.3 1400,746.9 1391.4,755 1387.1,765 1378.6,777.1 1398.6,781.4 1411.4,784.3 1415.7,793.6 1442.9,794.3 1440,803.6 1431.4,810.7 1432.1,817.9 1424.3,825 1427.1,830.7 1441.4,832.1 1454.3,834.3 1452.9,839.3 1444.3,840.7 1448.6,845 1447.1,847.9 1452.9,850.7 1474.3,851.4 1462.9,855 1460.7,860.7 1465.7,864.3 1478.6,865 1464.3,870.7 1462.9,874.3 1475,875 1458.6,880 1438.6,885.7 1412.1,891.4 1451.4,891.4 1431.4,894.3 1434.3,900 1465.7,900.7 1498.6,905 1460,911.5 1596,911.5 1498,919.4 1628.6,922.6 1498,923.6 1498,925 1888,925.3" stroke="#bfbf00"/>
</g>
<g clip-path="url(#cr)" font-size="33.0" fill="#999999" stroke="#999999" stroke-width="0.4" text-anchor="middle">
<text transform="translate(1212.11 306.7) rotate(-80.36)" x="0" y="10.54" textLength="77.93" lengthAdjust="spacingAndGlyphs">5.00</text>
<text transform="translate(1128.96 848.89) rotate(-74.19)" x="0" y="10.54" textLength="77.93" lengthAdjust="spacingAndGlyphs">3.00</text>
<text transform="translate(1367.28 314.35) rotate(-66.98)" x="0" y="10.54" textLength="77.93" lengthAdjust="spacingAndGlyphs">2.00</text>
<text transform="translate(1501.02 231.7) rotate(-60.47)" x="0" y="10.54" textLength="77.93" lengthAdjust="spacingAndGlyphs">1.50</text>
<text transform="translate(1628.38 313.96) rotate(-49.65)" x="0" y="10.54" textLength="77.93" lengthAdjust="spacingAndGlyphs">1.00</text>
<text transform="translate(1720.6 386.12) rotate(-41.44)" x="0" y="10.54" textLength="77.93" lengthAdjust="spacingAndGlyphs">0.75</text>
<text transform="translate(1628.72 620.88) rotate(-30.48)" x="0" y="10.54" textLength="77.93" lengthAdjust="spacingAndGlyphs">0.50</text>
<text transform="translate(1629.71 774.25) rotate(-16.4)" x="0" y="10.54" textLength="77.93" lengthAdjust="spacingAndGlyphs">0.25</text>
</g>
<rect x="917.6" y="836.93" width="48.7" height="92.47" fill="#f7fbff"/>
<rect x="917.6" y="745.06" width="48.7" height="92.47" fill="#e1edf8"/>
<rect x="917.6" y="653.19" width="48.7" height="92.47" fill="#cbdff1"/>
<rect x="917.6" y="561.32" width="48.7" height="92.47" fill="#abd0e6"/>
<rect x="917.6" y="469.45" width="48.7" height="92.47" fill="#82badb"/>
<rect x="917.6" y="377.58" width="48.7" height="92.47" fill="#59a2cf"/>
<rect x="917.6" y="285.71" width="48.7" height="92.47" fill="#3787c0"/>
<rect x="917.6" y="193.84" width="48.7" height="92.47" fill="#1b6aaf"/>
<rect x="917.6" y="101.97" width="48.7" height="92.47" fill="#084d97"/>
<rect x="917.6" y="10.1" width="48.7" height="92.47" fill="#08306b"/>
<rect x="917.6" y="10.4" width="48.7" height="918.7" fill="none" stroke="#000" stroke-width="1.4"/>
<line x1="966.3" y1="929.1" x2="970.9" y2="929.1" stroke="#000" stroke-width="1.4"/>
<text y="937.4" font-size="22.2" fill="#000" stroke="#000" stroke-width="0.25"><tspan x="974.57" textLength="36.94" lengthAdjust="spacingAndGlyphs">0.0</tspan></text>
<line x1="966.3" y1="745.36" x2="970.9" y2="745.36" stroke="#000" stroke-width="1.4"/>
<text y="753.66" font-size="22.2" fill="#000" stroke="#000" stroke-width="0.25"><tspan x="974.57" textLength="36.94" lengthAdjust="spacingAndGlyphs">0.2</tspan></text>
<line x1="966.3" y1="561.62" x2="970.9" y2="561.62" stroke="#000" stroke-width="1.4"/>
<text y="569.92" font-size="22.2" fill="#000" stroke="#000" stroke-width="0.25"><tspan x="974.57" textLength="36.94" lengthAdjust="spacingAndGlyphs">0.4</tspan></text>
<line x1="966.3" y1="377.88" x2="970.9" y2="377.88" stroke="#000" stroke-width="1.4"/>
<text y="386.18" font-size="22.2" fill="#000" stroke="#000" stroke-width="0.25"><tspan x="974.57" textLength="36.94" lengthAdjust="spacingAndGlyphs">0.6</tspan></text>
<line x1="966.3" y1="194.14" x2="970.9" y2="194.14" stroke="#000" stroke-width="1.4"/>
<text y="202.44" font-size="22.2" fill="#000" stroke="#000" stroke-width="0.25"><tspan x="974.57" textLength="36.94" lengthAdjust="spacingAndGlyphs">0.8</tspan></text>
<line x1="966.3" y1="10.4" x2="970.9" y2="10.4" stroke="#000" stroke-width="1.4"/>
<text y="16.3" font-size="22.2" fill="#000" stroke="#000" stroke-width="0.25"><tspan x="974.57" textLength="36.94" lengthAdjust="spacingAndGlyphs">1.0</tspan></text>
<rect x="1936.8" y="835.92" width="48.5" height="92.58" fill="#f7fbff"/>
<rect x="1936.8" y="743.94" width="48.5" height="92.58" fill="#e1edf8"/>
<rect x="1936.8" y="651.96" width="48.5" height="92.58" fill="#cbdff1"/>
<rect x="1936.8" y="559.98" width="48.5" height="92.58" fill="#abd0e6"/>
<rect x="1936.8" y="468" width="48.5" height="92.58" fill="#82badb"/>
<rect x="1936.8" y="376.02" width="48.5" height="92.58" fill="#59a2cf"/>
<rect x="1936.8" y="284.04" width="48.5" height="92.58" fill="#3787c0"/>
<rect x="1936.8" y="192.06" width="48.5" height="92.58" fill="#1b6aaf"/>
<rect x="1936.8" y="100.08" width="48.5" height="92.58" fill="#084d97"/>
<rect x="1936.8" y="8.1" width="48.5" height="92.58" fill="#08306b"/>
<rect x="1936.8" y="8.4" width="48.5" height="919.8" fill="none" stroke="#000" stroke-width="1.4"/>
<line x1="1985.3" y1="928.2" x2="1991.5" y2="928.2" stroke="#000" stroke-width="1.4"/>
<text y="935.9" font-size="22.6" fill="#000" stroke="#000" stroke-width="0.25"><tspan x="1992.48" textLength="38.99" lengthAdjust="spacingAndGlyphs">0.0</tspan></text>
<line x1="1985.3" y1="744.24" x2="1991.5" y2="744.24" stroke="#000" stroke-width="1.4"/>
<text y="751.94" font-size="22.6" fill="#000" stroke="#000" stroke-width="0.25"><tspan x="1992.48" textLength="38.99" lengthAdjust="spacingAndGlyphs">0.2</tspan></text>
<line x1="1985.3" y1="560.28" x2="1991.5" y2="560.28" stroke="#000" stroke-width="1.4"/>
<text y="567.98" font-size="22.6" fill="#000" stroke="#000" stroke-width="0.25"><tspan x="1992.48" textLength="38.99" lengthAdjust="spacingAndGlyphs">0.4</tspan></text>
<line x1="1985.3" y1="376.32" x2="1991.5" y2="376.32" stroke="#000" stroke-width="1.4"/>
<text y="384.02" font-size="22.6" fill="#000" stroke="#000" stroke-width="0.25"><tspan x="1992.48" textLength="38.99" lengthAdjust="spacingAndGlyphs">0.6</tspan></text>
<line x1="1985.3" y1="192.36" x2="1991.5" y2="192.36" stroke="#000" stroke-width="1.4"/>
<text y="200.06" font-size="22.6" fill="#000" stroke="#000" stroke-width="0.25"><tspan x="1992.48" textLength="38.99" lengthAdjust="spacingAndGlyphs">0.8</tspan></text>
<line x1="1985.3" y1="8.4" x2="1991.5" y2="8.4" stroke="#000" stroke-width="1.4"/>
<text y="16.1" font-size="22.6" fill="#000" stroke="#000" stroke-width="0.25"><tspan x="1992.48" textLength="38.99" lengthAdjust="spacingAndGlyphs">1.0</tspan></text>
<rect x="83.8" y="10.4" width="784.6" height="918.7" fill="none" stroke="#000" stroke-width="1.4"/>
<line x1="83.8" y1="929.1" x2="83.8" y2="935.3" stroke="#000" stroke-width="1.4"/>
<line x1="83.8" y1="929.1" x2="77.6" y2="929.1" stroke="#000" stroke-width="1.4"/>
<text y="957.7" font-size="22.2" fill="#000" stroke="#000" stroke-width="0.25"><tspan x="64.86" textLength="37.26" lengthAdjust="spacingAndGlyphs">0.0</tspan></text>
<text y="937.2" font-size="22.2" fill="#000" stroke="#000" stroke-width="0.25"><tspan x="38.18" textLength="36.72" lengthAdjust="spacingAndGlyphs">0.0</tspan></text>
<line x1="240.72" y1="929.1" x2="240.72" y2="935.3" stroke="#000" stroke-width="1.4"/>
<line x1="83.8" y1="745.36" x2="77.6" y2="745.36" stroke="#000" stroke-width="1.4"/>
<text y="957.7" font-size="22.2" fill="#000" stroke="#000" stroke-width="0.25"><tspan x="221.78" textLength="37.26" lengthAdjust="spacingAndGlyphs">0.2</tspan></text>
<text y="753.46" font-size="22.2" fill="#000" stroke="#000" stroke-width="0.25"><tspan x="38.18" textLength="36.72" lengthAdjust="spacingAndGlyphs">0.2</tspan></text>
<line x1="397.64" y1="929.1" x2="397.64" y2="935.3" stroke="#000" stroke-width="1.4"/>
<line x1="83.8" y1="561.62" x2="77.6" y2="561.62" stroke="#000" stroke-width="1.4"/>
<text y="957.7" font-size="22.2" fill="#000" stroke="#000" stroke-width="0.25"><tspan x="378.7" textLength="37.26" lengthAdjust="spacingAndGlyphs">0.4</tspan></text>
<text y="569.72" font-size="22.2" fill="#000" stroke="#000" stroke-width="0.25"><tspan x="38.18" textLength="36.72" lengthAdjust="spacingAndGlyphs">0.4</tspan></text>
<line x1="554.56" y1="929.1" x2="554.56" y2="935.3" stroke="#000" stroke-width="1.4"/>
<line x1="83.8" y1="377.88" x2="77.6" y2="377.88" stroke="#000" stroke-width="1.4"/>
<text y="957.7" font-size="22.2" fill="#000" stroke="#000" stroke-width="0.25"><tspan x="535.62" textLength="37.26" lengthAdjust="spacingAndGlyphs">0.6</tspan></text>
<text y="385.98" font-size="22.2" fill="#000" stroke="#000" stroke-width="0.25"><tspan x="38.18" textLength="36.72" lengthAdjust="spacingAndGlyphs">0.6</tspan></text>
<line x1="711.48" y1="929.1" x2="711.48" y2="935.3" stroke="#000" stroke-width="1.4"/>
<line x1="83.8" y1="194.14" x2="77.6" y2="194.14" stroke="#000" stroke-width="1.4"/>
<text y="957.7" font-size="22.2" fill="#000" stroke="#000" stroke-width="0.25"><tspan x="692.54" textLength="37.26" lengthAdjust="spacingAndGlyphs">0.8</tspan></text>
<text y="202.24" font-size="22.2" fill="#000" stroke="#000" stroke-width="0.25"><tspan x="38.18" textLength="36.72" lengthAdjust="spacingAndGlyphs">0.8</tspan></text>
<line x1="868.4" y1="929.1" x2="868.4" y2="935.3" stroke="#000" stroke-width="1.4"/>
<line x1="83.8" y1="10.4" x2="77.6" y2="10.4" stroke="#000" stroke-width="1.4"/>
<text y="957.7" font-size="22.2" fill="#000" stroke="#000" stroke-width="0.25"><tspan x="849.46" textLength="37.26" lengthAdjust="spacingAndGlyphs">1.0</tspan></text>
<text y="18.5" font-size="22.2" fill="#000" stroke="#000" stroke-width="0.25"><tspan x="38.18" textLength="36.72" lengthAdjust="spacingAndGlyphs">1.0</tspan></text>
<rect x="1106.5" y="8.4" width="781.5" height="919.8" fill="none" stroke="#000" stroke-width="1.4"/>
<line x1="1106.5" y1="928.2" x2="1106.5" y2="934.4" stroke="#000" stroke-width="1.4"/>
<line x1="1106.5" y1="928.2" x2="1100.3" y2="928.2" stroke="#000" stroke-width="1.4"/>
<text y="956.2" font-size="22.6" fill="#000" stroke="#000" stroke-width="0.25"><tspan x="1087.48" textLength="38.99" lengthAdjust="spacingAndGlyphs">0.0</tspan></text>
<text y="935.8" font-size="22.6" fill="#000" stroke="#000" stroke-width="0.25"><tspan x="1058.79" textLength="38.88" lengthAdjust="spacingAndGlyphs">0.0</tspan></text>
<line x1="1262.8" y1="928.2" x2="1262.8" y2="934.4" stroke="#000" stroke-width="1.4"/>
<line x1="1106.5" y1="744.24" x2="1100.3" y2="744.24" stroke="#000" stroke-width="1.4"/>
<text y="956.2" font-size="22.6" fill="#000" stroke="#000" stroke-width="0.25"><tspan x="1243.78" textLength="38.99" lengthAdjust="spacingAndGlyphs">0.2</tspan></text>
<text y="751.84" font-size="22.6" fill="#000" stroke="#000" stroke-width="0.25"><tspan x="1058.79" textLength="38.88" lengthAdjust="spacingAndGlyphs">0.2</tspan></text>
<line x1="1419.1" y1="928.2" x2="1419.1" y2="934.4" stroke="#000" stroke-width="1.4"/>
<line x1="1106.5" y1="560.28" x2="1100.3" y2="560.28" stroke="#000" stroke-width="1.4"/>
<text y="956.2" font-size="22.6" fill="#000" stroke="#000" stroke-width="0.25"><tspan x="1400.08" textLength="38.99" lengthAdjust="spacingAndGlyphs">0.4</tspan></text>
<text y="567.88" font-size="22.6" fill="#000" stroke="#000" stroke-width="0.25"><tspan x="1058.79" textLength="38.88" lengthAdjust="spacingAndGlyphs">0.4</tspan></text>
<line x1="1575.4" y1="928.2" x2="1575.4" y2="934.4" stroke="#000" stroke-width="1.4"/>
<line x1="1106.5" y1="376.32" x2="1100.3" y2="376.32" stroke="#000" stroke-width="1.4"/>
<text y="956.2" font-size="22.6" fill="#000" stroke="#000" stroke-width="0.25"><tspan x="1556.38" textLength="38.99" lengthAdjust="spacingAndGlyphs">0.6</tspan></text>
<text y="383.92" font-size="22.6" fill="#000" stroke="#000" stroke-width="0.25"><tspan x="1058.79" textLength="38.88" lengthAdjust="spacingAndGlyphs">0.6</tspan></text>
<line x1="1731.7" y1="928.2" x2="1731.7" y2="934.4" stroke="#000" stroke-width="1.4"/>
<line x1="1106.5" y1="192.36" x2="1100.3" y2="192.36" stroke="#000" stroke-width="1.4"/>
<text y="956.2" font-size="22.6" fill="#000" stroke="#000" stroke-width="0.25"><tspan x="1712.68" textLength="38.99" lengthAdjust="spacingAndGlyphs">0.8</tspan></text>
<text y="199.96" font-size="22.6" fill="#000" stroke="#000" stroke-width="0.25"><tspan x="1058.79" textLength="38.88" lengthAdjust="spacingAndGlyphs">0.8</tspan></text>
<line x1="1888" y1="928.2" x2="1888" y2="934.4" stroke="#000" stroke-width="1.4"/>
<line x1="1106.5" y1="8.4" x2="1100.3" y2="8.4" stroke="#000" stroke-width="1.4"/>
<text y="956.2" font-size="22.6" fill="#000" stroke="#000" stroke-width="0.25"><tspan x="1868.98" textLength="38.99" lengthAdjust="spacingAndGlyphs">1.0</tspan></text>
<text y="16" font-size="22.6" fill="#000" stroke="#000" stroke-width="0.25"><tspan x="1058.79" textLength="38.88" lengthAdjust="spacingAndGlyphs">1.0</tspan></text>
<text y="991.4" font-size="21.9" fill="#000" stroke="#000" stroke-width="0.25"><tspan x="331.78" textLength="61.96" lengthAdjust="spacingAndGlyphs">POFD</tspan> <tspan x="402.46" textLength="129.92" lengthAdjust="spacingAndGlyphs">(probability</tspan> <tspan x="541.66" textLength="21.61" lengthAdjust="spacingAndGlyphs">of</tspan> <tspan x="572.19" textLength="52.79" lengthAdjust="spacingAndGlyphs">false</tspan> <tspan x="633.25" textLength="115.59" lengthAdjust="spacingAndGlyphs">detection)</tspan></text>
<text y="991.5" font-size="22.7" fill="#000" stroke="#000" stroke-width="0.25"><tspan x="1340.53" textLength="96.04" lengthAdjust="spacingAndGlyphs">Success</tspan> <tspan x="1444.88" textLength="53.79" lengthAdjust="spacingAndGlyphs">ratio</tspan> <tspan x="1506.91" textLength="26.14" lengthAdjust="spacingAndGlyphs">(1</tspan> <tspan x="1542.54" textLength="9.32" lengthAdjust="spacingAndGlyphs">-</tspan> <tspan x="1560.57" textLength="57.95" lengthAdjust="spacingAndGlyphs">FAR)</tspan></text>
<text transform="translate(17.4 0) rotate(-90)" y="0" font-size="22.7" fill="#000" stroke="#000" stroke-width="0.25"><tspan x="-617.09" textLength="48.21" lengthAdjust="spacingAndGlyphs">POD</tspan> <tspan x="-558.8" textLength="126.96" lengthAdjust="spacingAndGlyphs">(probability</tspan> <tspan x="-421.23" textLength="21.51" lengthAdjust="spacingAndGlyphs">of</tspan> <tspan x="-390.65" textLength="115.49" lengthAdjust="spacingAndGlyphs">detection)</tspan></text>
<text transform="translate(1037.6 0) rotate(-90)" y="0" font-size="23.8" fill="#000" stroke="#000" stroke-width="0.25"><tspan x="-622.23" textLength="49.18" lengthAdjust="spacingAndGlyphs">POD</tspan> <tspan x="-563.01" textLength="127.77" lengthAdjust="spacingAndGlyphs">(probability</tspan> <tspan x="-424.63" textLength="21.4" lengthAdjust="spacingAndGlyphs">of</tspan> <tspan x="-393.27" textLength="117.34" lengthAdjust="spacingAndGlyphs">detection)</tspan></text>
<rect x="101.3" y="27" width="234.1" height="204.5" rx="5" ry="5" fill="#ffffff" fill-opacity="0.8" stroke="#cccccc" stroke-opacity="0.8" stroke-width="1.8"/>
<line x1="112.9" y1="54.2" x2="188.8" y2="54.2" stroke="#ff0000" stroke-width="5.0"/>
<text y="65.4" font-size="32.2" fill="#000" stroke="#000" stroke-width="0.3"><tspan x="214.23" textLength="47.05" lengthAdjust="spacingAndGlyphs">AR</tspan></text>
<line x1="112.9" y1="102.6" x2="188.8" y2="102.6" stroke="#0000ff" stroke-width="5.0"/>
<text y="114" font-size="32.2" fill="#000" stroke="#000" stroke-width="0.3"><tspan x="213.17" textLength="106.94" lengthAdjust="spacingAndGlyphs">NAO+</tspan></text>
<line x1="112.9" y1="151.6" x2="188.8" y2="151.6" stroke="#008000" stroke-width="5.0"/>
<text y="163" font-size="32.2" fill="#000" stroke="#000" stroke-width="0.3"><tspan x="213.15" textLength="90.77" lengthAdjust="spacingAndGlyphs">NAO-</tspan></text>
<line x1="112.9" y1="200.4" x2="188.8" y2="200.4" stroke="#bfbf00" stroke-width="5.0"/>
<text y="211.6" font-size="32.2" fill="#000" stroke="#000" stroke-width="0.3"><tspan x="213.69" textLength="73.88" lengthAdjust="spacingAndGlyphs">SBO</tspan></text>
<rect x="1637.5" y="25" width="232.9" height="204.9" rx="5" ry="5" fill="#ffffff" fill-opacity="0.8" stroke="#cccccc" stroke-opacity="0.8" stroke-width="1.8"/>
<line x1="1648.5" y1="52.6" x2="1724.2" y2="52.6" stroke="#ff0000" stroke-width="5.0"/>
<text y="63.9" font-size="34" fill="#000" stroke="#000" stroke-width="0.3"><tspan x="1750.13" textLength="46.84" lengthAdjust="spacingAndGlyphs">AR</tspan></text>
<line x1="1648.5" y1="101" x2="1724.2" y2="101" stroke="#0000ff" stroke-width="5.0"/>
<text y="112.8" font-size="34" fill="#000" stroke="#000" stroke-width="0.3"><tspan x="1748.77" textLength="106.94" lengthAdjust="spacingAndGlyphs">NAO+</tspan></text>
<line x1="1648.5" y1="150" x2="1724.2" y2="150" stroke="#008000" stroke-width="5.0"/>
<text y="161.2" font-size="34" fill="#000" stroke="#000" stroke-width="0.3"><tspan x="1748.75" textLength="90.77" lengthAdjust="spacingAndGlyphs">NAO-</tspan></text>
<line x1="1648.5" y1="198.9" x2="1724.2" y2="198.9" stroke="#bfbf00" stroke-width="5.0"/>
<text y="209.9" font-size="34" fill="#000" stroke="#000" stroke-width="0.3"><tspan x="1749.29" textLength="73.88" lengthAdjust="spacingAndGlyphs">SBO</tspan></text>
<text y="1051.5" font-size="36" fill="#111" font-family="'Liberation Serif', 'DejaVu Serif', serif"><tspan x="398.73" textLength="41.64" lengthAdjust="spacingAndGlyphs" font-weight="bold">(a)</tspan> <tspan x="450.17" textLength="73.29" lengthAdjust="spacingAndGlyphs">ROC</tspan> <tspan x="532.03" textLength="80.02" lengthAdjust="spacingAndGlyphs">curve</tspan></text>
<text y="1051.5" font-size="36" fill="#111" font-family="'Liberation Serif', 'DejaVu Serif', serif"><tspan x="1340.15" textLength="46.01" lengthAdjust="spacingAndGlyphs" font-weight="bold">(b)</tspan> <tspan x="1394.56" textLength="184.19" lengthAdjust="spacingAndGlyphs">Performance</tspan> <tspan x="1588.38" textLength="119.39" lengthAdjust="spacingAndGlyphs">diagram</tspan></text>
</svg>
</body></html>
